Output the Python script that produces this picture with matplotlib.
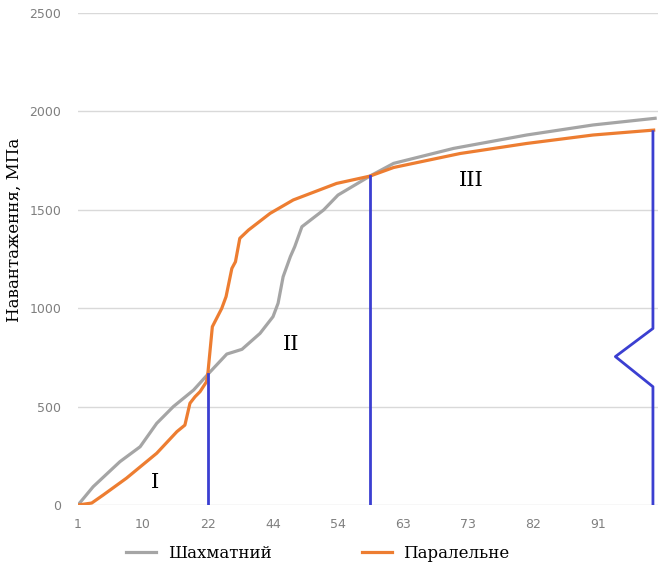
import matplotlib.pyplot as plt

# category positions (label step = 9 categories)
tick_pos = [0, 9, 18, 27, 36, 45, 54, 63, 72]
tick_labels = ["1", "10", "22", "44", "54", "63", "73", "82", "91"]

# Шахматний (grey)
x_chess = [0, 2.1, 5.8, 8.6, 10.9, 13.2, 16.0, 18.0, 20.6, 22.7, 25.2, 27.0, 27.7,
           28.4, 29.4, 30.0, 31.0, 34.0, 36.0, 40.4, 43.7, 52.0, 62.1, 71.3, 79.9]
y_chess = [0, 93, 220, 296, 415, 500, 584, 665, 767, 791, 872, 957, 1025,
           1160, 1262, 1312, 1414, 1499, 1575, 1671, 1736, 1812, 1880, 1931, 1965]

# Паралельне (orange)
x_par = [0, 1.9, 3.5, 6.7, 10.9, 13.7, 14.8, 15.5, 16.2, 16.9, 17.8, 18.0, 18.6,
         19.9, 20.5, 21.3, 21.8, 22.4, 23.6, 26.6, 28.2, 29.8, 35.8, 40.4, 43.7,
         52.9, 62.1, 71.3, 79.7]
y_par = [0, 10, 51, 136, 263, 373, 406, 517, 550, 576, 627, 677, 906,
         999, 1059, 1202, 1236, 1355, 1397, 1482, 1516, 1550, 1634, 1671, 1715,
         1786, 1837, 1880, 1905]

# stage boundaries
b1_x, b1_top = 18.0, 665
b2_x, b2_top = 40.4, 1671
b3_x = [79.6, 79.6, 74.4, 79.6, 79.6]
b3_y = [0, 601, 754, 897, 1897]

fig = plt.figure(figsize=(6.58, 5.66), dpi=100)
ax = fig.add_axes([78/658, 61/566, 580/658, 492/566])

blue = '#3b3fd1'
ax.plot(x_chess, y_chess, color='#a5a5a5', linewidth=2.3, label='Шахматний', zorder=3)
ax.plot(x_par, y_par, color='#ed7d31', linewidth=2.3, label='Паралельне', zorder=3)
ax.plot([b1_x, b1_x], [0, b1_top], color=blue, linewidth=2, zorder=4)
ax.plot([b2_x, b2_x], [0, b2_top], color=blue, linewidth=2, zorder=4)
ax.plot(b3_x, b3_y, color=blue, linewidth=2, zorder=4)

ax.text(10.7, 115, 'I', fontsize=15, family='DejaVu Serif', ha='center', va='center')
ax.text(29.5, 815, 'II', fontsize=15, family='DejaVu Serif', ha='center', va='center')
ax.text(54.5, 1650, 'III', fontsize=15, family='DejaVu Serif', ha='center', va='center')

ax.set_xlim(0, 80.3)
ax.set_ylim(0, 2500)
ax.set_yticks([0, 500, 1000, 1500, 2000, 2500])
ax.set_xticks(tick_pos)
ax.set_xticklabels(tick_labels)
ax.tick_params(axis='both', length=0, labelsize=9, labelcolor='#7f7f7f')
ax.tick_params(axis='y', pad=12)
ax.tick_params(axis='x', pad=9)
for s in ax.spines.values():
    s.set_visible(False)
ax.grid(axis='y', color='#d9d9d9', linewidth=1)
ax.set_axisbelow(True)

fig.text(14/658, 1-230/566, 'Навантаження, МПа', rotation=90, fontsize=12,
         family='DejaVu Serif', ha='center', va='center')

fig.legend(loc='center', bbox_to_anchor=(318/658, 1-553/566), ncol=2, frameon=False,
           prop={'family': 'DejaVu Serif', 'size': 12}, handlelength=1.8,
           handletextpad=0.7, columnspacing=5.4)

fig.savefig('out.png', dpi=100)
